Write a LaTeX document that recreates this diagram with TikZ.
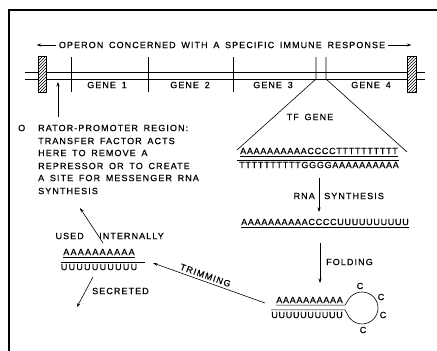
\documentclass[tikz,border=0pt]{standalone}
\usepackage{fontspec}
\setmainfont{Liberation Sans}
\newfontfamily\lab[LetterSpace=12,WordSpace=1.6,FakeBold=0.5]{Liberation Sans}
\newfontfamily\seqf[LetterSpace=8,FakeBold=0.5]{Liberation Sans}
\newfontfamily\seqw[LetterSpace=14,FakeBold=0.5]{Liberation Sans}
\usetikzlibrary{arrows.meta,patterns}
\begin{document}
\begin{tikzpicture}[x=1pt,y=-1pt,
  txt/.style={font={\lab\fontsize{9}{10}\selectfont}, inner sep=0pt},
  seq/.style={font={\seqf\fontsize{9}{10}\selectfont}, inner sep=0pt},
  seqwide/.style={font={\seqw\fontsize{9}{10}\selectfont}, inner sep=0pt},
  thinl/.style={line width=0.6pt},
  arr/.style={thinl,-{Stealth[length=4.5pt,width=3pt]}},
  hatchbox/.style={draw, line width=0.6pt, pattern=north east lines}]
\useasboundingbox (0,0) rectangle (437,351);
% frame
\draw[line width=2.4pt] (437,10) -- (9,10) -- (9,351);
% title
\node[txt] (title) at (222,45) {OPERON CONCERNED WITH A SPECIFIC IMMUNE RESPONSE};
\draw[arr] ([xshift=-3pt]title.west) -- ++(-19,0);
\draw[arr] ([xshift=3pt]title.east) -- ++(23,0);
% operon lines
\draw[thinl] (25,72) -- (425,72);
\draw[thinl] (25,79) -- (425,79);
\fill[white] (38,56) rectangle (46,92);
\draw[hatchbox] (38,56) rectangle (46,92);
\fill[white] (407,56) rectangle (416,92);
\draw[hatchbox] (407,56) rectangle (416,92);
\foreach \x in {71,148,233} \draw[thinl] (\x,57) -- (\x,92);
\draw[thinl] (316,57) -- (316,79) -- (237,150);
\draw[thinl] (326,57) -- (326,79) -- (407,152);
\node[txt] (g1) at (107,85) {GENE 1};
\node[txt] (g2) at (190,85) {GENE 2};
\node[txt] (g3) at (273,85) {GENE 3};
\node[txt] (g4) at (371,85) {GENE 4};
\node[txt] (tf) at (310,117) {TF GENE};
% operator text
\node[txt,anchor=west] (op0) at (18,128) {\makebox[20pt][l]{O}RATOR-PROMOTER REGION:};
\node[txt,anchor=west] (op1) at (38,141) {TRANSFER FACTOR ACTS};
\node[txt,anchor=west] (op2) at (38,153) {HERE TO REMOVE A};
\node[txt,anchor=west] (op3) at (38,166) {REPRESSOR OR TO CREATE};
\node[txt,anchor=west] (op4) at (38,178) {A SITE FOR MESSENGER RNA};
\node[txt,anchor=west] (op5) at (38,191) {SYNTHESIS};
\coordinate (opA) at (58,117);
\coordinate (opB) at (58,82);
\draw[arr] (opA) -- (opB);
% DNA
\node[seq] (dnatop) at (319,151) {AAAAAAAAAACCCCTTTTTTTTTT};
\node[seq] (dnabot) at (319,165) {TTTTTTTTTTGGGGAAAAAAAAAA};
\draw[thinl] ([yshift=-1.8pt]dnatop.south west) -- ([yshift=-1.8pt]dnatop.south east);
\draw[thinl] ([yshift=1.8pt,xshift=-2pt]dnabot.north west) -- ([yshift=1.8pt]dnabot.north east);
% RNA synthesis
\coordinate (rs1) at (319,178);
\coordinate (rs2) at (319,212);
\draw[arr] (rs1) -- (rs2);
\node[txt,anchor=east] (rna) at (315,196) {RNA};
\node[txt,anchor=west] (syn) at (324,196) {SYNTHESIS};
% mRNA
\node[seq] (mrna) at (325,222) {AAAAAAAAAACCCCUUUUUUUUUU};
\draw[thinl] ([yshift=-2pt]mrna.south west) -- ([yshift=-2pt]mrna.south east);
% folding
\coordinate (fo1) at (320,243);
\coordinate (fo2) at (320,283);
\draw[arr] (fo1) -- (fo2);
\node[txt,anchor=west] (fold) at (326,262) {FOLDING};
% hairpin
\node[seq,anchor=east] (hpA) at (343,300) {AAAAAAAAAA};
\node[seq,anchor=east] (hpU) at (343,315) {UUUUUUUUUU};
\coordinate (hpT) at ([yshift=-1.8pt,xshift=2pt]hpA.south east);
\coordinate (hpB) at ([yshift=1.8pt,xshift=2pt]hpU.north east);
\draw[thinl] ([yshift=-1.8pt]hpA.south west) -- (hpT) -- (348.9,298.8)
  arc[start angle=-145, end angle=160, radius=16] -- (hpB) -- ([yshift=1.8pt]hpU.north west);
\node[txt] (c1) at (360,286) {C};
\node[txt] (c2) at (381,297) {C};
\node[txt] (c3) at (383,315) {C};
\node[txt] (c4) at (363,330) {C};
% left duplex
\node[seqwide] (lA) at (99,252) {AAAAAAAAAA};
\node[seqwide] (lU) at (99,267) {UUUUUUUUUU};
\draw[thinl] ([yshift=-1.8pt]lA.south west) -- ([yshift=-1.8pt]lA.south east);
\draw[thinl] ([yshift=1.8pt]lU.north west) -- ([yshift=1.8pt,xshift=8pt]lU.north east);
% trimming
\coordinate (tr1) at (265,303);
\coordinate (tr2) at (153,263);
\draw[arr] (tr1) -- node[txt,sloped,above=2.5pt,pos=0.55] {TRIMMING} (tr2);
% used internally / secreted
\node[txt,anchor=east] (used) at (84,236) {USED};
\node[txt,anchor=west] (intl) at (99,236) {INTERNALLY};
\coordinate (ui1) at (103,243);
\coordinate (ui2) at (80,208);
\draw[arr] (ui1) -- (ui2);
\node[txt,anchor=west] (sec) at (92,291) {SECRETED};
\coordinate (se1) at (93,277);
\coordinate (se2) at (77,307);
\draw[arr] (se1) -- (se2);
\end{tikzpicture}
\end{document}
